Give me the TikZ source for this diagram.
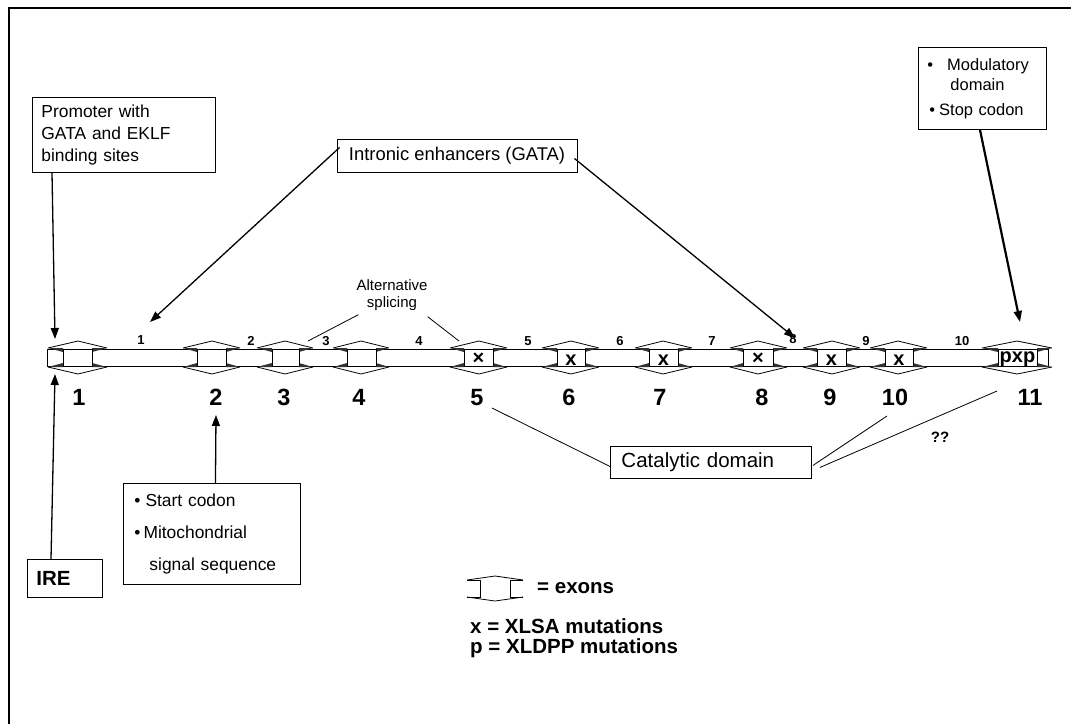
\documentclass[tikz,border=0pt]{standalone}
\usepackage{fontspec}
\setmainfont{Liberation Sans}
\usetikzlibrary{arrows.meta,calc}
\begin{document}
\begin{tikzpicture}[x=1pt,y=-1pt,
  box/.style={draw,line width=0.9pt,fill=white,inner ysep=0pt,align=left},
  arr/.style={line width=1.3pt,-{Triangle[length=11pt,width=8pt]}},
  thinln/.style={line width=0.8pt},
  gl/.style={line width=0.8pt},
  wedge/.style={fill=gray!40!black},
  inum/.style={font=\bfseries\fontsize{13}{13}\selectfont,inner sep=0pt,anchor=base},
  enum/.style={font=\bfseries\fontsize{23.5}{24}\selectfont,inner sep=0pt,anchor=base},
  mut/.style={font=\bfseries\fontsize{20}{20}\selectfont,inner sep=0pt,anchor=base},
  txt/.style={font=\fontsize{17.4}{22}\selectfont},
  leg/.style={font=\bfseries\fontsize{20.5}{22}\selectfont,inner sep=0pt,anchor=west}
]
\useasboundingbox (0,0) rectangle (1071,724);
\fill[white] (0,0) rectangle (1071,724);
\draw[line width=1.3pt] (9,724)--(9,8)--(1071,8);

% gene bar
\draw[gl,fill=white] (47,349) rectangle (1048,366);
\foreach \n/\xl/\va/\vb/\xr/\pk in {1/48/63/92/107/78, 2/183/197/226/240/212, 3/257/272/299/313/285, 4/333/347/376/389/361, 5/450/464/493/507/479, 6/542/557/585/599/571, 7/635/649/678/692/663, 8/730/743/773/787/758, 9/803/817/846/860/832, 10/870/885/913/927/898, 11/982/998/1037/1052/1017}{
  \fill[wedge] (\va,348)--(\xl,348)--(\va,352)--cycle;
  \fill[wedge] (\va,367)--(\xl,367)--(\va,363)--cycle;
  \fill[wedge] (\vb,348)--(\xr,348)--(\vb,352)--cycle;
  \fill[wedge] (\vb,367)--(\xr,367)--(\vb,363)--cycle;
  \draw[gl] (\va,349)--(\va,366) (\vb,349)--(\vb,366);
  \draw[gl] (\xl,348)--(\pk,341)--(\xr,348);
  \draw[gl] (\xl,367)--(\pk,374)--(\xr,367);
  \coordinate (top\n) at (\pk,341);
  \coordinate (bot\n) at (\pk,374);
}

% mutations
\node[mut] (m5) at (478.5,364) {×};
\node[mut] (m6) at (571,365) {x};
\node[mut] (m7) at (663.5,365) {x};
\node[mut] (m8) at (758,364) {×};
\node[mut] (m9) at (831.5,365) {x};
\node[mut] (m10) at (899,365) {x};
\node[mut] (m11) at (1017.5,362) {pxp};

% intron numbers
\node[inum] (i1) at (141,344) {1};
\node[inum] (i2) at (251,345) {2};
\node[inum] (i3) at (326,345) {3};
\node[inum] (i4) at (419,345) {4};
\node[inum] (i5) at (528,345) {5};
\node[inum] (i6) at (620,345) {6};
\node[inum] (i7) at (712,345) {7};
\node[inum] (i8) at (793,343) {8};
\node[inum] (i9) at (866,345) {9};
\node[inum] (i10) at (962,345) {10};

% exon numbers
\node[enum] (n1) at (79,405) {1};
\node[enum] (n2) at (216,405) {2};
\node[enum] (n3) at (284,405) {3};
\node[enum] (n4) at (359,405) {4};
\node[enum] (n5) at (477,405) {5};
\node[enum] (n6) at (569,405) {6};
\node[enum] (n7) at (660,405) {7};
\node[enum] (n8) at (762,405) {8};
\node[enum] (n9) at (830,405) {9};
\node[enum] (n10) at (895,405) {10};
\node[enum] (n11) at (1030,405) {11};

% boxes
\node[box,txt,anchor=north west,inner xsep=9pt,text width=165pt,minimum height=75pt] (prom) at (32,97)
  {Promoter with\\GATA and EKLF\\binding sites};
\node[box,inner xsep=9pt,minimum width=240pt,minimum height=33pt,align=center,font=\fontsize{18.4}{22}\selectfont] (intr) at (457,155.5)
  {Intronic enhancers (GATA)};
\node[box,anchor=north west,inner xsep=9pt,text width=110pt,minimum height=82pt,font=\fontsize{16.5}{20}\selectfont] (modu) at (918,47)
  {\textbullet\hspace{14pt}Modulatory\\\hspace*{23pt}domain\\[5pt]\hspace*{2pt}\textbullet\hspace{4pt}Stop codon};
\node[box,anchor=north west,inner xsep=11pt,text width=155pt,minimum height=101pt,font=\fontsize{17.4}{32}\selectfont] (start) at (123,483)
  {\textbullet\hspace{5pt}Start codon\\\textbullet\hspace{3pt}Mitochondrial\\\hspace*{15pt}signal sequence};
\node[box,anchor=north west,inner xsep=9pt,text width=57pt,minimum height=38pt,font=\bfseries\fontsize{20.5}{22}\selectfont] (ire) at (27,559)
  {IRE};
\node[box,anchor=north west,inner xsep=11pt,text width=179pt,minimum height=32pt,font=\fontsize{20.5}{22}\selectfont] (cat) at (610,446)
  {Catalytic domain};
\node[font=\fontsize{15}{17}\selectfont,align=center,inner sep=0pt] (alt) at (392,295) {Alternative\\splicing};
\node[font=\bfseries\fontsize{15}{15}\selectfont,inner sep=0pt] (qq) at (940,437) {??};

% connectors
\coordinate (promtip) at (55,339);
\coordinate (iretip) at (55,374);
\coordinate (starttip) at (216,415);
\coordinate (intrL) at (150,322);
\coordinate (intrR) at (795,338);
\coordinate (modtip) at (1020,322);
\coordinate (alt1) at (308,341);
\coordinate (alt2) at (459,341);
\coordinate (c5) at (492,408);
\coordinate (c10) at (887,416);
\coordinate (c11) at (997,391);

\draw[arr] ($(prom.south west)+(20,0)$) -- (promtip);
\draw[arr] ($(ire.north west)+(24,0)$) -- (iretip);
\draw[arr] ($(start.north)+(3.5,0)$) -- (starttip);
\draw[arr] ($(intr.west)+(3,-8)$) -- (intrL);
\draw[arr] ($(intr.east)+(-3,3)$) -- (intrR);
\draw[arr,line width=2.2pt] ($(modu.south west)+(62,0)$) -- (modtip);
\draw[thinln] ($(alt.south west)+(2,4)$) -- (alt1);
\draw[thinln] ($(alt.south east)+(0,6)$) -- (alt2);
\draw[thinln] ($(cat.west)+(0,4)$) -- (c5);
\draw[thinln] ($(cat.east)+(1,3)$) -- (c10);
\draw[thinln] ($(cat.east)+(8,5)$) -- (c11);

% legend
\draw[gl] (467,580)--(480,580)--(480,597)--(467,597);
\draw[gl] (523,580)--(510,580)--(510,597)--(523,597);
\draw[gl] (467,580)--(495,576)--(523,580);
\draw[gl] (467,597)--(495,601)--(523,597);
\node[leg] (lexon) at (537,588) {= exons};
\node[leg] (lx) at (470,626) {x = XLSA mutations};
\node[leg] (lp) at (470,648) {p = XLDPP mutations};
\end{tikzpicture}
\end{document}
